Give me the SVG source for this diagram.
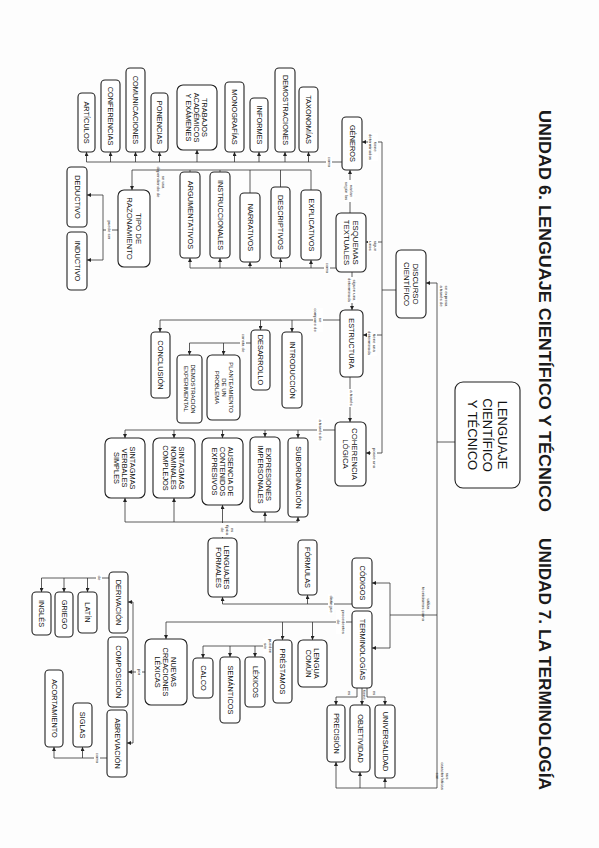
<svg xmlns="http://www.w3.org/2000/svg" width="599" height="848" viewBox="0 0 599 848">
<style>
.b{fill:#fff;stroke:#222;stroke-width:1.1}
.t{font-family:"Liberation Sans",Arial,sans-serif;font-size:7.4px;fill:#111;text-anchor:middle;dominant-baseline:central}
.c{fill:none;stroke:#333;stroke-width:0.8}
.a{fill:none;stroke:#333;stroke-width:0.8;marker-end:url(#ar)}
.lt{font-family:"Liberation Sans",Arial,sans-serif;font-size:4.3px;fill:#222;text-anchor:middle;dominant-baseline:central}
.lb{fill:#fff;stroke:none}
.h{font-family:"Liberation Sans",Arial,sans-serif;font-weight:bold;font-size:16px;fill:#1a1a1a;dominant-baseline:central}
</style>
<defs>
<marker id="ar" markerWidth="4" markerHeight="4" refX="4" refY="2" orient="auto" markerUnits="userSpaceOnUse"><path d="M0,0 L4,2 L0,4z" fill="#222"/></marker>
</defs>
<rect width="599" height="848" fill="#fdfdfd"/>

<text class="h" transform="translate(544,110) rotate(90)" textLength="402" lengthAdjust="spacingAndGlyphs">UNIDAD 6. LENGUAJE CIENTÍFICO Y TÉCNICO</text>
<text class="h" transform="translate(544,538) rotate(90)" textLength="252" lengthAdjust="spacingAndGlyphs">UNIDAD 7. LA TERMINOLOGÍA</text>

<g id="connectors">
<path class="c" d="M455,442 H437 M437,283 V788"/>
<path class="a" d="M437,283 H426"/>
<path class="c" d="M437,615 H390 M390,583 V648"/>
<path class="a" d="M390,583 H372"/><path class="a" d="M390,648 H372"/>
<path class="c" d="M437,788 H336"/>
<path class="a" d="M336,788 V762"/><path class="a" d="M360,788 V772"/><path class="a" d="M385,788 V778"/>
<path class="c" d="M396,290 H382 M382,142 V453"/>
<path class="a" d="M382,142 H362"/><path class="a" d="M382,242 H366"/><path class="a" d="M382,335 H363"/><path class="a" d="M382,453 H366"/>
<path class="a" d="M350,213 V170"/>
<path class="a" d="M352,272 V310"/>
<path class="a" d="M350,377 V422"/>
<path class="c" d="M342,162 H86.5"/>
<path class="a" d="M86.5,162 V152"/><path class="a" d="M110.5,162 V152"/><path class="a" d="M135.5,162 V152"/><path class="a" d="M159.5,162 V152"/><path class="a" d="M197,162 V150"/><path class="a" d="M234.5,162 V152"/><path class="a" d="M259,162 V152"/><path class="a" d="M285,162 V152"/><path class="a" d="M308.5,162 V152"/>
<path class="c" d="M336,268 H190"/>
<path class="a" d="M190,268 V258"/><path class="a" d="M220,268 V258"/><path class="a" d="M250,268 V262"/><path class="a" d="M280.5,268 V258"/><path class="a" d="M311,268 V260"/>
<path class="c" d="M311,190 V170 H132 M280.5,187 V170 M250,193 V170 M220,172 V170 M190,172 V170"/>
<path class="a" d="M132,170 V190"/>
<path class="c" d="M118,230 H103 M103,195 V260"/>
<path class="a" d="M103,195 H87"/><path class="a" d="M103,260 H87"/>
<path class="c" d="M340,320 H160"/>
<path class="a" d="M160,320 V332"/><path class="a" d="M260.5,320 V330"/><path class="a" d="M292,320 V332"/>
<path class="c" d="M251,343 H189.5"/>
<path class="a" d="M189.5,343 V355"/><path class="a" d="M223.5,343 V355"/>
<path class="c" d="M335,430 H125"/>
<path class="a" d="M298,430 V438"/><path class="a" d="M265,430 V437"/><path class="a" d="M222.5,430 V438"/><path class="a" d="M174,430 V438"/><path class="a" d="M125,430 V438"/>
<path class="a" d="M222.5,538 V505"/>
<path class="c" d="M125,522 H298"/>
<path class="a" d="M125,522 V498"/><path class="a" d="M174,522 V498"/><path class="a" d="M265,522 V512"/><path class="a" d="M298,522 V517"/>
<path class="c" d="M352,604 H222.5"/>
<path class="a" d="M222.5,604 V597"/><path class="a" d="M307.5,604 V595"/>
<path class="c" d="M352,622 H166"/>
<path class="a" d="M166,622 V639"/><path class="a" d="M282.5,622 V640"/><path class="a" d="M312.5,622 V640"/>
<path class="c" d="M273,646 H203"/>
<path class="a" d="M203,646 V658"/><path class="a" d="M230,646 V657"/><path class="a" d="M255,646 V657"/>
<path class="c" d="M145,672 H133 M133,602 V743"/>
<path class="a" d="M133,602 H128"/><path class="a" d="M133,672 H128"/><path class="a" d="M133,743 H127"/>
<path class="c" d="M109,578 H41.5"/>
<path class="a" d="M41.5,578 V592"/><path class="a" d="M64,578 V592"/><path class="a" d="M87.5,578 V592"/>
<path class="c" d="M107,758 H54"/>
<path class="a" d="M54,758 V747"/><path class="a" d="M82.5,758 V747"/>
<path class="a" d="M357,688 V697 H336 V705"/>
<path class="a" d="M362,688 V705"/>
<path class="a" d="M367,688 V697 H385 V705"/>
</g>

<g id="labels">
<g transform="translate(444,296) rotate(90)"><text class="lt"><tspan x="0" dy="-2.5">se expresa</tspan><tspan x="0" dy="5">a través de</tspan></text></g>
<g transform="translate(426,604) rotate(90)"><text class="lt"><tspan x="0" dy="-2.5">utiliza</tspan><tspan x="0" dy="5">tecnicismos como</tspan></text></g>
<g transform="translate(443,776) rotate(90)"><text class="lt"><tspan x="0" dy="-5">sus</tspan><tspan x="0" dy="5">características</tspan><tspan x="0" dy="5">son</tspan></text></g>
<g transform="translate(373,147) rotate(90)"><rect class="lb" x="-14" y="-5" width="28" height="10"/><text class="lt"><tspan x="0" dy="-2.5">tiene</tspan><tspan x="0" dy="5">determinados</tspan></text></g>
<g transform="translate(373,246) rotate(90)"><rect class="lb" x="-6" y="-5" width="12" height="10"/><text class="lt"><tspan x="0" dy="-2.5">sigue</tspan><tspan x="0" dy="5">unos</tspan></text></g>
<g transform="translate(372,343) rotate(90)"><rect class="lb" x="-13" y="-5" width="26" height="10"/><text class="lt"><tspan x="0" dy="-2.5">tiene una</tspan><tspan x="0" dy="5">determinada</tspan></text></g>
<g transform="translate(374,458) rotate(90)"><rect class="lb" x="-10" y="-3" width="20" height="6"/><text class="lt">posee una</text></g>
<g transform="translate(349,191) rotate(90)"><rect class="lb" x="-11" y="-5" width="22" height="10"/><text class="lt"><tspan x="0" dy="-2.5">varían</tspan><tspan x="0" dy="5">según los</tspan></text></g>
<g transform="translate(352,290) rotate(90)"><rect class="lb" x="-13" y="-5" width="26" height="10"/><text class="lt"><tspan x="0" dy="-2.5">siguen una</tspan><tspan x="0" dy="5">determinada</tspan></text></g>
<g transform="translate(351,398) rotate(90)"><rect class="lb" x="-9" y="-3" width="18" height="6"/><text class="lt">a través</text></g>
<g transform="translate(329,162) rotate(90)"><rect class="lb" x="-6" y="-3" width="12" height="6"/><text class="lt">como</text></g>
<g transform="translate(327,268) rotate(90)"><rect class="lb" x="-6" y="-3" width="12" height="6"/><text class="lt">como</text></g>
<g transform="translate(161,182) rotate(90)"><text class="lt"><tspan x="0" dy="-2.5">se usa</tspan><tspan x="0" dy="5">dependiendo de</tspan></text></g>
<g transform="translate(109,230) rotate(90)"><rect class="lb" x="-10" y="-3" width="20" height="6"/><text class="lt">puede ser</text></g>
<g transform="translate(318,320) rotate(90)"><rect class="lb" x="-12" y="-5" width="24" height="10"/><text class="lt"><tspan x="0" dy="-2.5">se</tspan><tspan x="0" dy="5">compone de</tspan></text></g>
<g transform="translate(243,343) rotate(90)"><rect class="lb" x="-10" y="-3" width="20" height="6"/><text class="lt">consta de</text></g>
<g transform="translate(320,430) rotate(90)"><rect class="lb" x="-12" y="-3" width="24" height="6"/><text class="lt">a través de</text></g>
<g transform="translate(228,530) rotate(90)"><rect class="lb" x="-7" y="-7.5" width="14" height="15"/><text class="lt"><tspan x="0" dy="-5">es</tspan><tspan x="0" dy="5">típica</tspan><tspan x="0" dy="5">de</tspan></text></g>
<g transform="translate(331,604) rotate(90)"><rect class="lb" x="-10" y="-3" width="20" height="6"/><text class="lt">distingue</text></g>
<g transform="translate(341,622) rotate(90)"><rect class="lb" x="-12" y="-5" width="24" height="10"/><text class="lt"><tspan x="0" dy="-2.5">procedentes</tspan><tspan x="0" dy="5">de</tspan></text></g>
<g transform="translate(268,646) rotate(90)"><rect class="lb" x="-8" y="-5" width="16" height="10"/><text class="lt"><tspan x="0" dy="-2.5">pueden</tspan><tspan x="0" dy="5">ser</tspan></text></g>
<g transform="translate(139,672) rotate(90)"><rect class="lb" x="-4" y="-3" width="8" height="6"/><text class="lt">por</text></g>
<g transform="translate(99,578) rotate(90)"><rect class="lb" x="-3" y="-3" width="6" height="6"/><text class="lt">de</text></g>
<g transform="translate(97,758) rotate(90)"><rect class="lb" x="-6" y="-3" width="12" height="6"/><text class="lt">como</text></g>
<g transform="translate(349,693) rotate(90)"><text class="lt">es</text></g>
<g transform="translate(364,695) rotate(90)"><text class="lt">tiene</text></g>
<g transform="translate(374,693) rotate(90)"><text class="lt">es</text></g>
</g>

<g id="n-lenguaje"><rect class="b" x="455" y="382" width="65" height="106" rx="8"/><text class="t" style="font-size:13px" transform="translate(487.5,435) rotate(90)"><tspan x="0" dy="-15">LENGUAJE</tspan><tspan x="0" dy="15">CIENTÍFICO</tspan><tspan x="0" dy="15">Y TÉCNICO</tspan></text></g>
<g id="n-discurso"><rect class="b" x="396" y="250" width="30" height="68" rx="5"/><text class="t" style="font-size:7.8px" transform="translate(411,284) rotate(90)"><tspan x="0" dy="-4.5">DISCURSO</tspan><tspan x="0" dy="9">CIENTÍFICO</tspan></text></g>
<g id="n-generos"><rect class="b" x="342" y="117" width="20" height="53" rx="4"/><text class="t" transform="translate(352,143.5) rotate(90)">GÉNEROS</text></g>
<g id="n-esquemas"><rect class="b" x="336" y="213" width="30" height="59" rx="5"/><text class="t" style="font-size:7.8px" transform="translate(351,242.5) rotate(90)"><tspan x="0" dy="-4.5">ESQUEMAS</tspan><tspan x="0" dy="9">TEXTUALES</tspan></text></g>
<g id="n-estructura"><rect class="b" x="340" y="310" width="23" height="67" rx="5"/><text class="t" transform="translate(351.5,343.5) rotate(90)">ESTRUCTURA</text></g>
<g id="n-coherencia"><rect class="b" x="335" y="422" width="31" height="64" rx="5"/><text class="t" style="font-size:7.8px" transform="translate(350.5,454) rotate(90)"><tspan x="0" dy="-4.5">COHERENCIA</tspan><tspan x="0" dy="9">LÓGICA</tspan></text></g>

<g id="n-articulos"><rect class="b" x="78" y="93" width="17" height="59" rx="4"/><text class="t" transform="translate(86.5,122.5) rotate(90)">ARTÍCULOS</text></g>
<g id="n-conferencias"><rect class="b" x="101" y="80" width="19" height="72" rx="4"/><text class="t" transform="translate(110.5,116) rotate(90)">CONFERENCIAS</text></g>
<g id="n-comunicaciones"><rect class="b" x="126" y="68" width="19" height="84" rx="4"/><text class="t" transform="translate(135.5,110) rotate(90)">COMUNICACIONES</text></g>
<g id="n-ponencias"><rect class="b" x="151" y="93" width="17" height="59" rx="4"/><text class="t" transform="translate(159.5,122.5) rotate(90)">PONENCIAS</text></g>
<g id="n-trabajos"><rect class="b" x="177" y="85" width="40" height="65" rx="6"/><text class="t" transform="translate(197,117.5) rotate(90)"><tspan x="0" dy="-8">TRABAJOS</tspan><tspan x="0" dy="8">ACADÉMICOS</tspan><tspan x="0" dy="8">Y EXÁMENES</tspan></text></g>
<g id="n-monografias"><rect class="b" x="225" y="82" width="19" height="70" rx="4"/><text class="t" transform="translate(234.5,117) rotate(90)">MONOGRAFÍAS</text></g>
<g id="n-informes"><rect class="b" x="250" y="98" width="18" height="54" rx="4"/><text class="t" transform="translate(259,125) rotate(90)">INFORMES</text></g>
<g id="n-demostraciones"><rect class="b" x="275" y="68" width="20" height="84" rx="4"/><text class="t" transform="translate(285,110) rotate(90)">DEMOSTRACIONES</text></g>
<g id="n-taxonomias"><rect class="b" x="299" y="87" width="19" height="65" rx="4"/><text class="t" transform="translate(308.5,119.5) rotate(90)">TAXONOMÍAS</text></g>

<g id="n-argumentativos"><rect class="b" x="180" y="172" width="20" height="86" rx="4"/><text class="t" transform="translate(190,215) rotate(90)">ARGUMENTATIVOS</text></g>
<g id="n-instruccionales"><rect class="b" x="210" y="172" width="20" height="86" rx="4"/><text class="t" transform="translate(220,215) rotate(90)">INSTRUCCIONALES</text></g>
<g id="n-narrativos"><rect class="b" x="240" y="193" width="20" height="69" rx="4"/><text class="t" transform="translate(250,227.5) rotate(90)">NARRATIVOS</text></g>
<g id="n-descriptivos"><rect class="b" x="271" y="187" width="19" height="71" rx="4"/><text class="t" transform="translate(280.5,222.5) rotate(90)">DESCRIPTIVOS</text></g>
<g id="n-explicativos"><rect class="b" x="301" y="190" width="20" height="70" rx="4"/><text class="t" transform="translate(311,225) rotate(90)">EXPLICATIVOS</text></g>
<g id="n-tipo"><rect class="b" x="118" y="190" width="32" height="77" rx="6"/><text class="t" style="font-size:7.8px" transform="translate(134,228.5) rotate(90)"><tspan x="0" dy="-4.5">TIPO DE</tspan><tspan x="0" dy="9">RAZONAMIENTO</tspan></text></g>
<g id="n-deductivo"><rect class="b" x="67" y="167" width="20" height="60" rx="4"/><text class="t" transform="translate(77,197) rotate(90)">DEDUCTIVO</text></g>
<g id="n-inductivo"><rect class="b" x="67" y="232" width="20" height="58" rx="4"/><text class="t" transform="translate(77,261) rotate(90)">INDUCTIVO</text></g>

<g id="n-conclusion"><rect class="b" x="151" y="332" width="19" height="66" rx="4"/><text class="t" transform="translate(160.5,365) rotate(90)">CONCLUSIÓN</text></g>
<g id="n-demostracion"><rect class="b" x="177" y="355" width="25" height="68" rx="4"/><text class="t" style="font-size:6px" transform="translate(189.5,389) rotate(90)"><tspan x="0" dy="-3.5">DEMOSTRACIÓN</tspan><tspan x="0" dy="7">EXPERIMENTAL</tspan></text></g>
<g id="n-planteamiento"><rect class="b" x="207" y="355" width="33" height="65" rx="5"/><text class="t" style="font-size:6px" transform="translate(223.5,387.5) rotate(90)"><tspan x="0" dy="-7">PLANTEAMIENTO</tspan><tspan x="0" dy="7">DE UN</tspan><tspan x="0" dy="7">PROBLEMA</tspan></text></g>
<g id="n-desarrollo"><rect class="b" x="251" y="330" width="19" height="60" rx="4"/><text class="t" transform="translate(260.5,360) rotate(90)">DESARROLLO</text></g>
<g id="n-introduccion"><rect class="b" x="282" y="332" width="20" height="76" rx="4"/><text class="t" transform="translate(292,370) rotate(90)">INTRODUCCIÓN</text></g>

<g id="n-subordinacion"><rect class="b" x="288" y="438" width="20" height="79" rx="4"/><text class="t" transform="translate(298,477.5) rotate(90)">SUBORDINACIÓN</text></g>
<g id="n-expresiones"><rect class="b" x="250" y="437" width="30" height="75" rx="5"/><text class="t" transform="translate(265,474.5) rotate(90)"><tspan x="0" dy="-4">EXPRESIONES</tspan><tspan x="0" dy="8">IMPERSONALES</tspan></text></g>
<g id="n-ausencia"><rect class="b" x="202" y="438" width="41" height="67" rx="6"/><text class="t" transform="translate(222.5,471.5) rotate(90)"><tspan x="0" dy="-8">AUSENCIA DE</tspan><tspan x="0" dy="8">CONTENIDOS</tspan><tspan x="0" dy="8">EXPRESIVOS</tspan></text></g>
<g id="n-sn"><rect class="b" x="153" y="438" width="42" height="60" rx="6"/><text class="t" transform="translate(174,468) rotate(90)"><tspan x="0" dy="-8">SINTAGMAS</tspan><tspan x="0" dy="8">NOMINALES</tspan><tspan x="0" dy="8">COMPLEJOS</tspan></text></g>
<g id="n-sv"><rect class="b" x="105" y="438" width="40" height="60" rx="6"/><text class="t" transform="translate(125,468) rotate(90)"><tspan x="0" dy="-8">SINTAGMAS</tspan><tspan x="0" dy="8">VERBALES</tspan><tspan x="0" dy="8">SIMPLES</tspan></text></g>
<g id="n-lenguajes"><rect class="b" x="208" y="538" width="29" height="59" rx="5"/><text class="t" transform="translate(222.5,567.5) rotate(90)"><tspan x="0" dy="-4">LENGUAJES</tspan><tspan x="0" dy="8">FORMALES</tspan></text></g>
<g id="n-formulas"><rect class="b" x="298" y="540" width="19" height="55" rx="4"/><text class="t" transform="translate(307.5,567.5) rotate(90)">FÓRMULAS</text></g>
<g id="n-codigos"><rect class="b" x="352" y="558" width="20" height="50" rx="4"/><text class="t" transform="translate(362,583) rotate(90)">CÓDIGOS</text></g>
<g id="n-terminologias"><rect class="b" x="352" y="611" width="20" height="77" rx="4"/><text class="t" transform="translate(362,649.5) rotate(90)">TERMINOLOGÍAS</text></g>
<g id="n-lengua"><rect class="b" x="298" y="640" width="29" height="47" rx="5"/><text class="t" transform="translate(312.5,663.5) rotate(90)"><tspan x="0" dy="-4">LENGUA</tspan><tspan x="0" dy="8">COMÚN</tspan></text></g>
<g id="n-prestamos"><rect class="b" x="273" y="640" width="19" height="63" rx="4"/><text class="t" transform="translate(282.5,671.5) rotate(90)">PRÉSTAMOS</text></g>
<g id="n-lexicos"><rect class="b" x="245" y="657" width="20" height="50" rx="4"/><text class="t" transform="translate(255,682) rotate(90)">LÉXICOS</text></g>
<g id="n-semanticos"><rect class="b" x="220" y="657" width="20" height="66" rx="4"/><text class="t" transform="translate(230,690) rotate(90)">SEMÁNTICOS</text></g>
<g id="n-calco"><rect class="b" x="193" y="658" width="20" height="40" rx="4"/><text class="t" transform="translate(203,678) rotate(90)">CALCO</text></g>
<g id="n-nuevas"><rect class="b" x="145" y="639" width="42" height="66" rx="6"/><text class="t" transform="translate(166,672) rotate(90)"><tspan x="0" dy="-8">NUEVAS</tspan><tspan x="0" dy="8">CREACIONES</tspan><tspan x="0" dy="8">LÉXICAS</tspan></text></g>
<g id="n-derivacion"><rect class="b" x="109" y="572" width="19" height="61" rx="4"/><text class="t" transform="translate(118.5,602.5) rotate(90)">DERIVACIÓN</text></g>
<g id="n-composicion"><rect class="b" x="108" y="637" width="20" height="70" rx="4"/><text class="t" transform="translate(118,672) rotate(90)">COMPOSICIÓN</text></g>
<g id="n-abreviacion"><rect class="b" x="107" y="710" width="20" height="67" rx="4"/><text class="t" transform="translate(117,743.5) rotate(90)">ABREVIACIÓN</text></g>
<g id="n-latin"><rect class="b" x="78" y="592" width="19" height="41" rx="4"/><text class="t" transform="translate(87.5,612.5) rotate(90)">LATÍN</text></g>
<g id="n-griego"><rect class="b" x="55" y="592" width="18" height="45" rx="4"/><text class="t" transform="translate(64,614.5) rotate(90)">GRIEGO</text></g>
<g id="n-ingles"><rect class="b" x="32" y="592" width="19" height="43" rx="4"/><text class="t" transform="translate(41.5,613.5) rotate(90)">INGLÉS</text></g>
<g id="n-siglas"><rect class="b" x="73" y="703" width="19" height="44" rx="4"/><text class="t" transform="translate(82.5,725) rotate(90)">SIGLAS</text></g>
<g id="n-acortamiento"><rect class="b" x="45" y="670" width="18" height="77" rx="4"/><text class="t" transform="translate(54,708.5) rotate(90)">ACORTAMIENTO</text></g>
<g id="n-precision"><rect class="b" x="327" y="705" width="18" height="57" rx="4"/><text class="t" transform="translate(336,733.5) rotate(90)">PRECISIÓN</text></g>
<g id="n-objetividad"><rect class="b" x="350" y="705" width="20" height="67" rx="4"/><text class="t" transform="translate(360,738.5) rotate(90)">OBJETIVIDAD</text></g>
<g id="n-universalidad"><rect class="b" x="375" y="705" width="20" height="73" rx="4"/><text class="t" transform="translate(385,741.5) rotate(90)">UNIVERSALIDAD</text></g>
</svg>
